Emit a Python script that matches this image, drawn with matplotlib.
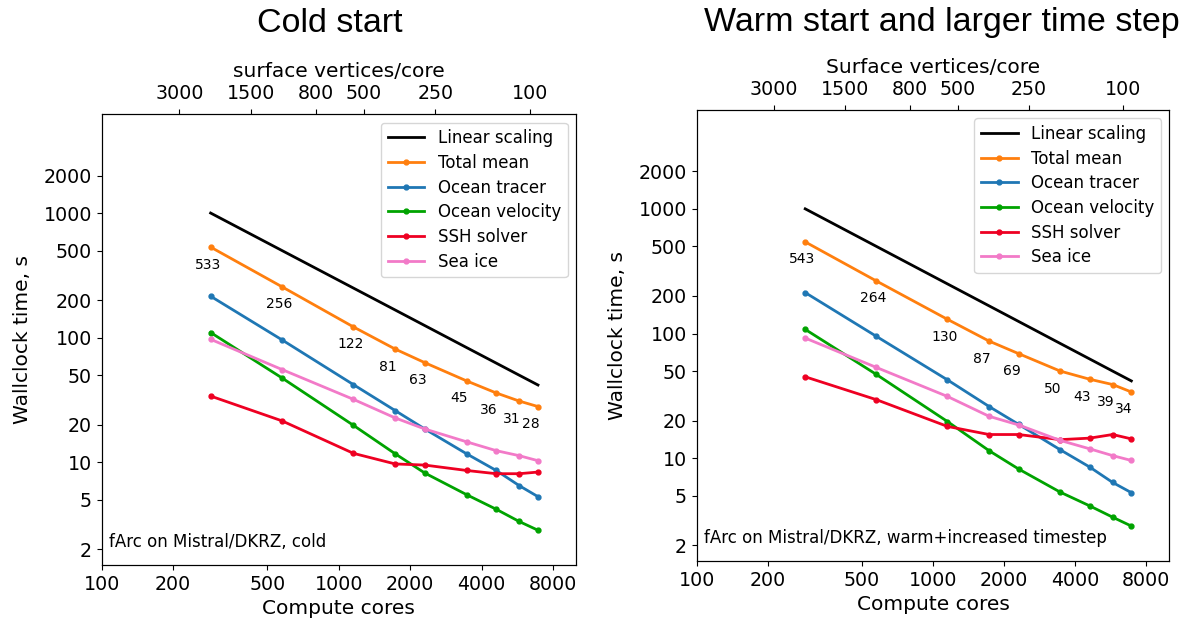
import numpy as np
import matplotlib.pyplot as plt
from matplotlib.ticker import NullLocator

# compute cores (bottom axis) and the ideal linear-scaling reference
cores = [288, 576, 1152, 1728, 2304, 3456, 4608, 5760, 6912]
linear = [1000, 500, 250, 166.7, 125, 83.3, 62.5, 50, 41.7]

# cold start, wallclock seconds
cold_total = [533, 256, 122, 81, 63, 45, 36, 31, 28]
cold_tracer = [215, 96, 42, 26, 18.5, 11.7, 8.6, 6.5, 5.3]
cold_velocity = [110, 47.5, 19.8, 11.7, 8.2, 5.5, 4.2, 3.35, 2.85]
cold_ssh = [34, 21.5, 11.8, 9.7, 9.5, 8.6, 8.1, 8.1, 8.35]
cold_seaice = [97, 55.5, 32, 22.7, 18.5, 14.6, 12.4, 11.3, 10.3]

# warm start + larger time step
warm_total = [543, 264, 130, 87, 69, 50, 43, 39, 34]
warm_tracer = [213, 95, 42.5, 26, 18.7, 11.7, 8.5, 6.4, 5.3]
warm_velocity = [108, 47, 19.7, 11.5, 8.2, 5.35, 4.15, 3.37, 2.86]
warm_ssh = [45, 29.5, 18, 15.5, 15.5, 14.1, 14.5, 15.5, 14.3]
warm_seaice = [92, 53.5, 31.3, 21.7, 18.5, 13.9, 11.9, 10.5, 9.6]

core_ticks = [100, 200, 500, 1000, 2000, 4000, 8000]
time_ticks = [2, 5, 10, 20, 50, 100, 200, 500, 1000, 2000]
vertex_ticks = [3000, 1500, 800, 500, 250, 100]
n_surface_vertices = 638000

colors = {'total': '#ff7f0e', 'tracer': '#1f77b4', 'velocity': '#00a300',
          'ssh': '#ee0022', 'seaice': '#f27ac8'}

plt.rcParams['xtick.labelsize'] = 13.7
plt.rcParams['ytick.labelsize'] = 13.7
plt.rcParams['axes.labelsize'] = 14.5


def scaling_panel(ax, total, tracer, velocity, ssh, seaice, note, top_label):
    ax.plot(cores, linear, color='black', lw=2, label='Linear scaling')
    series = [(total, 'total', 'Total mean'),
              (tracer, 'tracer', 'Ocean tracer'),
              (velocity, 'velocity', 'Ocean velocity'),
              (ssh, 'ssh', 'SSH solver'),
              (seaice, 'seaice', 'Sea ice')]
    for vals, key, lab in series:
        ax.plot(cores, vals, color=colors[key], lw=2, marker='o', ms=3.5, label=lab)

    for x, y in zip(cores, total):
        ax.annotate(f'{y}', (x, y), xytext=(-11.5, -12.6), textcoords='offset points',
                    ha='left', va='center', fontsize=10)

    ax.set_xscale('log')
    ax.set_yscale('log')
    ax.set_xlim(100, 10000)
    ax.set_ylim(1.5, 6200)
    ax.set_xticks(core_ticks, [str(t) for t in core_ticks])
    ax.set_yticks(time_ticks, [str(t) for t in time_ticks])
    ax.xaxis.set_minor_locator(NullLocator())
    ax.yaxis.set_minor_locator(NullLocator())
    ax.set_xlabel('Compute cores')
    ax.set_ylabel('Wallclock time, s', labelpad=8)
    ax.legend(loc='upper right', fontsize=12, handlelength=2.2, labelspacing=0.4)
    ax.text(0.016, 0.039, note, transform=ax.transAxes, fontsize=12, va='baseline')

    top = ax.twiny()
    top.set_xscale('log')
    top.set_xlim(ax.get_xlim())
    top.set_xticks([n_surface_vertices / v for v in vertex_ticks],
                   [str(v) for v in vertex_ticks])
    top.xaxis.set_minor_locator(NullLocator())
    top.tick_params(axis='x', pad=4.5)
    top.set_xlabel(top_label, labelpad=5)


fig = plt.figure(figsize=(11.85, 6.3), dpi=100)
ax1 = fig.add_axes([0.0858, 0.1032, 0.4003, 0.7154])
ax2 = fig.add_axes([0.5879, 0.1095, 0.3988, 0.7159])

scaling_panel(ax1, cold_total, cold_tracer, cold_velocity, cold_ssh, cold_seaice,
              'fArc on Mistral/DKRZ, cold', 'surface vertices/core')
scaling_panel(ax2, warm_total, warm_tracer, warm_velocity, warm_ssh, warm_seaice,
              'fArc on Mistral/DKRZ, warm+increased timestep', 'Surface vertices/core')

fig.text(330 / 1185, 1 - 23 / 630, 'Cold start', ha='center', va='center',
         fontsize=24.5, family='Liberation Sans')
fig.text(942 / 1185, 1 - 23 / 630, 'Warm start and larger time step', ha='center',
         va='center', fontsize=24.5, family='Liberation Sans')

fig.savefig('out.png', dpi=100)
